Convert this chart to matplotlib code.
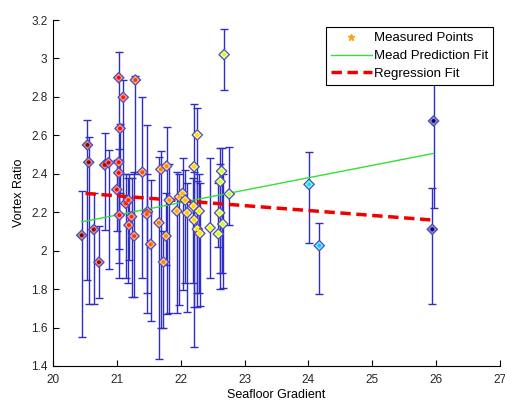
import numpy as np
import matplotlib
matplotlib.use("Agg")
import matplotlib.pyplot as plt
from matplotlib.lines import Line2D
from matplotlib.ticker import FuncFormatter

plt.rcParams['font.family'] = ['Liberation Sans', 'DejaVu Sans']

# Measured points: gradient, vortex ratio, lower and upper error-bar ends
grad = [20.45, 20.54, 20.56, 20.64, 20.72, 20.81, 20.87,
        21.03, 21.10, 21.29, 21.05, 21.03, 21.03, 21.00, 21.04,
        21.14, 21.18, 21.19, 21.23, 21.27,
        21.40, 21.48, 21.47, 21.53,
        21.69, 21.78, 21.66, 21.73, 21.77, 21.82,
        21.94, 21.98, 22.03, 22.07, 22.10,
        22.21, 22.26, 22.21, 22.29, 22.20, 22.26, 22.30,
        22.46,
        22.68, 22.64, 22.62, 22.76, 22.61, 22.66, 22.59,
        24.01, 24.17, 25.96, 25.94]
ratio = [2.08, 2.55, 2.46, 2.11, 1.94, 2.446, 2.458,
         2.90, 2.798, 2.888, 2.636, 2.46, 2.405, 2.318, 2.185,
         2.246, 2.263, 2.133, 2.177, 2.076,
         2.408, 2.203, 2.19, 2.033,
         2.423, 2.44, 2.145, 1.941, 2.076, 2.263,
         2.206, 2.28, 2.298, 2.263, 2.197,
         2.437, 2.602, 2.16, 2.206, 2.232, 2.112, 2.09,
         2.119,
         3.02, 2.414, 2.359, 2.295, 2.197, 2.139, 2.087,
         2.345, 2.026, 2.675, 2.111]
lower = [1.55, 1.85, 1.72, 1.72, 1.755, 2.107, 1.903,
         2.47, 2.25, 2.40, 2.30, 2.007, 1.937, 2.10, 1.856,
         1.86, 1.83, 1.95, 1.76, 1.76,
         1.856, 1.677, 1.78, 1.634,
         1.60, 1.67, 1.435, 1.60, 1.925, 1.674,
         1.674, 1.717, 1.795, 1.83, 1.679,
         1.497, 1.778, 1.708, 1.778, 1.83, 1.708, 1.71,
         1.86,
         2.836, 1.882, 1.80, 2.133, 1.882, 1.804, 2.02,
         2.038, 1.774, 2.223, 1.72]
upper = [2.31, 2.68, 2.59, 2.30, 2.13, 2.614, 2.524,
         3.035, 2.888, 2.909, 2.66, 2.53, 2.47, 2.47, 2.47,
         2.40, 2.38, 2.40, 2.38, 2.41,
         2.80, 2.654, 2.40, 2.37,
         2.52, 2.645, 2.49, 2.10, 2.30, 2.45,
         2.41, 2.40, 2.48, 2.42, 2.35,
         2.761, 2.74, 2.41, 2.40, 2.38, 2.36, 2.35,
         2.48,
         3.153, 2.532, 2.532, 2.541, 2.45, 2.40, 2.35,
         2.515, 2.145, 3.13, 2.324]

# Fit lines (end points)
mead_x = [20.45, 25.96]
mead_y = [2.15, 2.506]
reg_x = [20.51, 25.96]
reg_y = [2.298, 2.159]

xticks = [20, 21, 22, 23, 24, 25, 26, 27]
yticks = [1.4, 1.6, 1.8, 2.0, 2.2, 2.4, 2.6, 2.8, 3.0, 3.2]

grad_a = np.array(grad)
ratio_a = np.array(ratio)
yerr = np.vstack([ratio_a - np.array(lower), np.array(upper) - ratio_a])

fig = plt.figure(figsize=(5.06, 4.01), dpi=100)
ax = fig.add_axes([0.1047, 0.0873, 0.8834, 0.8627])

ebcol = (0.18, 0.18, 0.78)
ax.errorbar(grad_a, ratio_a, yerr=yerr, fmt='none', ecolor=ebcol,
            elinewidth=1.0, capsize=3, capthick=1.0, zorder=2)

ax.plot(mead_x, mead_y, color=(0.2, 0.88, 0.2), lw=1.0, zorder=3)
ax.plot(reg_x, reg_y, color=(0.95, 0.0, 0.0), lw=2.5,
        linestyle=(0, (3, 1.6)), zorder=3)

cmap = plt.get_cmap('jet')
t = 1 - (grad_a - grad_a.min()) / (grad_a.max() - grad_a.min())
cols = cmap(t)
light = cols.copy()
light[:, :3] = cols[:, :3] * 0.45 + 0.55
ax.scatter(grad_a, ratio_a, s=28, marker='D', facecolors=light,
           edgecolors=(0.3, 0.3, 0.72), linewidths=0.9, zorder=4)
ax.scatter(grad_a, ratio_a, s=8, marker='o', c=cols, edgecolors='none', zorder=5)

ax.set_xlim(20, 27)
ax.set_ylim(1.4, 3.2)
ax.set_xticks(xticks)
ax.set_yticks(yticks)
ax.yaxis.set_major_formatter(FuncFormatter(lambda v, p: f"{v:g}"))
ax.tick_params(direction='in', length=4, labelsize=8.5, width=0.8,
               colors='black', labelcolor=(0.15, 0.15, 0.15))
ax.tick_params(axis='x', pad=6)
ax.tick_params(axis='y', pad=4)
for s in ['top', 'right']:
    ax.spines[s].set_visible(False)
for s in ['left', 'bottom']:
    ax.spines[s].set_linewidth(0.8)

ax.set_xlabel('Seafloor Gradient', fontsize=9, labelpad=2)
ax.set_ylabel('Vortex Ratio', fontsize=9, labelpad=4)

handles = [
    Line2D([], [], linestyle='none', marker='*', markersize=5,
           color=(0.95, 0.65, 0.1)),
    Line2D([], [], color=(0.2, 0.88, 0.2), lw=1.0),
    Line2D([], [], color=(0.95, 0.0, 0.0), lw=2.5, linestyle=(0, (3, 1.6))),
]
leg = ax.legend(handles, ['Measured Points', 'Mead Prediction Fit', 'Regression Fit'],
                loc='upper right', bbox_to_anchor=(0.985, 0.98), fontsize=9.5,
                frameon=True, fancybox=False, edgecolor='black',
                framealpha=1, borderpad=0.4, labelspacing=0.42,
                handlelength=3.1, handletextpad=0.15, borderaxespad=0)
leg.get_frame().set_linewidth(0.8)
leg.set_zorder(10)

fig.savefig('out.png', dpi=100)
